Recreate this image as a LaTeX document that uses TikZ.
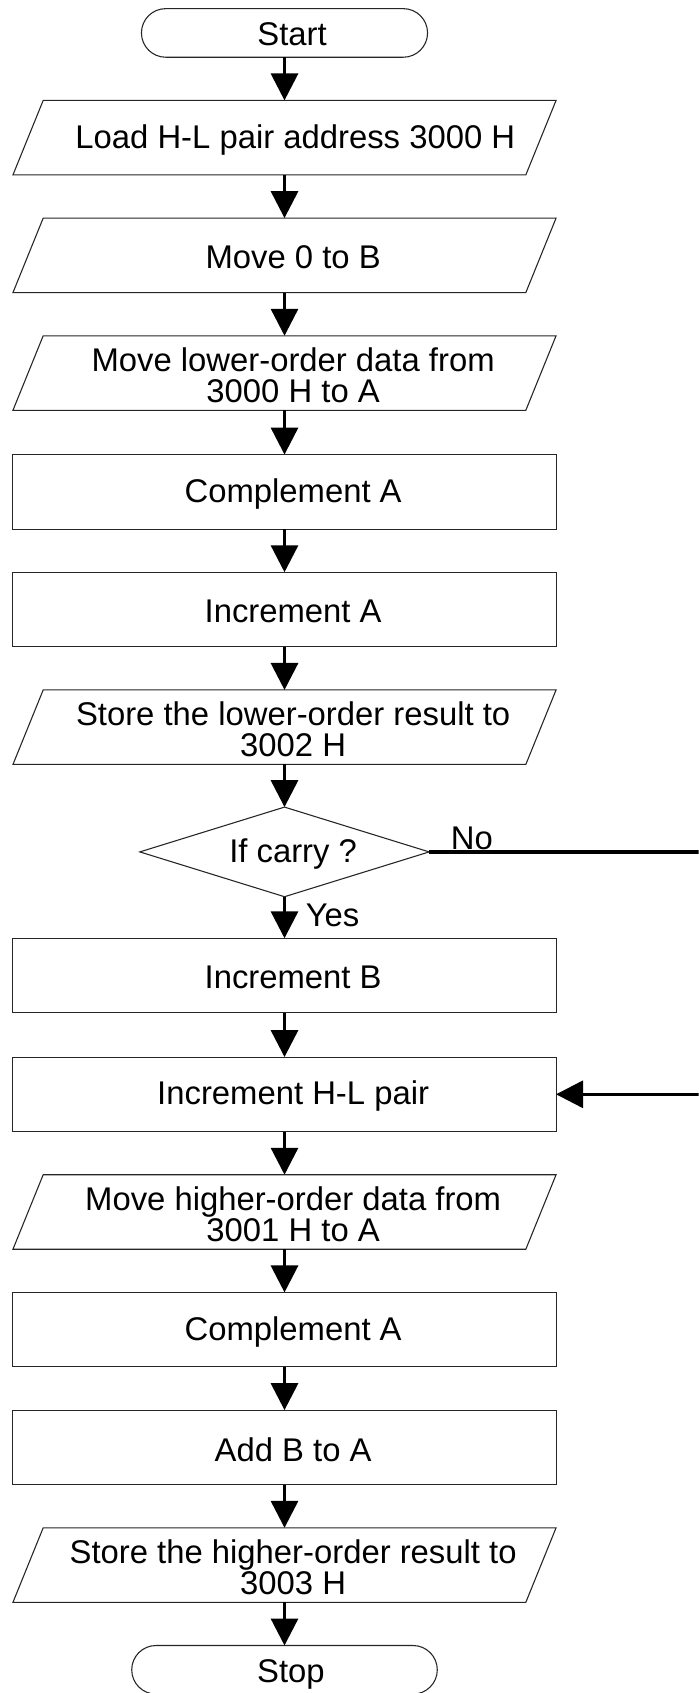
\documentclass[tikz,border=0pt]{standalone}
\usepackage{fontspec}
\setmainfont{Liberation Sans}
\usetikzlibrary{arrows.meta,calc}
\newcommand\myparallel[1]{\draw[shapeline] ($(#1.north west)+(28,0)$) -- (#1.north east) -- ($(#1.south east)+(-28,0)$) -- (#1.south west) -- cycle;}
\begin{document}
\begin{tikzpicture}[x=0.5pt,y=-0.5pt,
  box/.style={minimum width=251.5pt,minimum height=34.5pt,inner sep=0pt,outer sep=0pt},
  rbox/.style={box,draw=black!85,line width=0.5pt},
  txt/.style={font=\fontsize{15.2pt}{14pt}\selectfont,align=center,inner sep=0pt},
  term/.style={draw=black!85,line width=0.5pt,rounded corners=11.25pt,minimum height=22.5pt,inner sep=0pt,outer sep=0pt},
  flow/.style={line width=1.5pt,-{Triangle[width=12.5pt,length=12.5pt]}},
  shapeline/.style={draw=black!85,line width=0.5pt}
]
\fill[white] (0,0) rectangle (647,1568);
\useasboundingbox (0,0) rectangle (647,1568);
\clip (0,0) rectangle (647,1568);

% terminals
\node[term,minimum width=132.5pt] (start) at (263.5,30.5) {};
\node[txt] (tstart) at ([xshift=3.5pt,yshift=-0.5pt]start.center) {Start};
\node[term,minimum width=141.5pt] (stop) at (263.5,1546.5) {};
\node[txt] (tstop) at ([xshift=3pt,yshift=-2pt]stop.center) {Stop};

% boxes
\node[box] (p1) at (263.5,127.5) {};
\node[box] (p2) at (263.5,236.5) {};
\node[box] (p3) at (263.5,345.5) {};
\node[rbox] (r1) at (263.5,455.5) {};
\node[rbox] (r2) at (263.5,564.5) {};
\node[box] (p4) at (263.5,673.5) {};
\node[box,minimum width=134pt,minimum height=41.5pt] (d) at (263.5,789) {};
\node[rbox] (r3) at (263.5,903.5) {};
\node[rbox] (r4) at (263.5,1013.5) {};
\node[box] (p5) at (263.5,1122.5) {};
\node[rbox] (r5) at (263.5,1231.5) {};
\node[rbox] (r6) at (263.5,1340.5) {};
\node[box] (p6) at (263.5,1449.5) {};

\myparallel{p1}
\myparallel{p2}
\myparallel{p3}
\myparallel{p4}
\myparallel{p5}
\myparallel{p6}
\draw[shapeline] (d.north) -- (d.east) -- (d.south) -- (d.west) -- cycle;

% texts
\node[txt] (t1) at ([xshift=5pt,yshift=-1pt]p1.center) {Load H-L pair address 3000 H};
\node[txt] (t2) at ([xshift=4pt,yshift=-1pt]p2.center) {Move 0 to B};
\node[txt] (t3) at ([xshift=4pt,yshift=-1pt]p3.center) {Move lower-order data from\\3000 H to A};
\node[txt] (t4) at ([xshift=4pt,yshift=-1pt]r1.center) {Complement A};
\node[txt] (t5) at ([xshift=4pt,yshift=-1pt]r2.center) {Increment A};
\node[txt] (t6) at ([xshift=4pt,yshift=-1pt]p4.center) {Store the lower-order result to\\3002 H};
\node[txt] (td) at ([xshift=4pt,yshift=-1pt]d.center) {If carry ?};
\node[txt] (t7) at ([xshift=4pt,yshift=-1pt]r3.center) {Increment B};
\node[txt] (t8) at ([xshift=4pt,yshift=-1pt]r4.center) {Increment H-L pair};
\node[txt] (t9) at ([xshift=4pt,yshift=-1pt]p5.center) {Move higher-order data from\\3001 H to A};
\node[txt] (t10) at ([xshift=4pt,yshift=-1pt]r5.center) {Complement A};
\node[txt] (t11) at ([xshift=4pt,yshift=-1pt]r6.center) {Add B to A};
\node[txt] (t12) at ([xshift=4pt,yshift=-1pt]p6.center) {Store the higher-order result to\\3003 H};

% connectors
\draw[flow] (start.south) -- (p1.north);
\draw[flow] (p1.south) -- (p2.north);
\draw[flow] (p2.south) -- (p3.north);
\draw[flow] (p3.south) -- (r1.north);
\draw[flow] (r1.south) -- (r2.north);
\draw[flow] (r2.south) -- (p4.north);
\draw[flow] (p4.south) -- (d.north);
\draw[flow] (d.south) -- (r3.north);
\draw[flow] (r3.south) -- (r4.north);
\draw[flow] (r4.south) -- (p5.north);
\draw[flow] (p5.south) -- (r5.north);
\draw[flow] (r5.south) -- (r6.north);
\draw[flow] (r6.south) -- (p6.north);
\draw[flow] (p6.south) -- (stop.north);

\coordinate (n1) at (690,789);
\coordinate (n2) at (690,1013.5);
\draw[flow] (d.east) -- (n1) -- (n2) -- (r4.east);

\node[txt] (no) at (437,776) {No};
\node[txt] (yes) at (308,848) {Yes};
\end{tikzpicture}
\end{document}
